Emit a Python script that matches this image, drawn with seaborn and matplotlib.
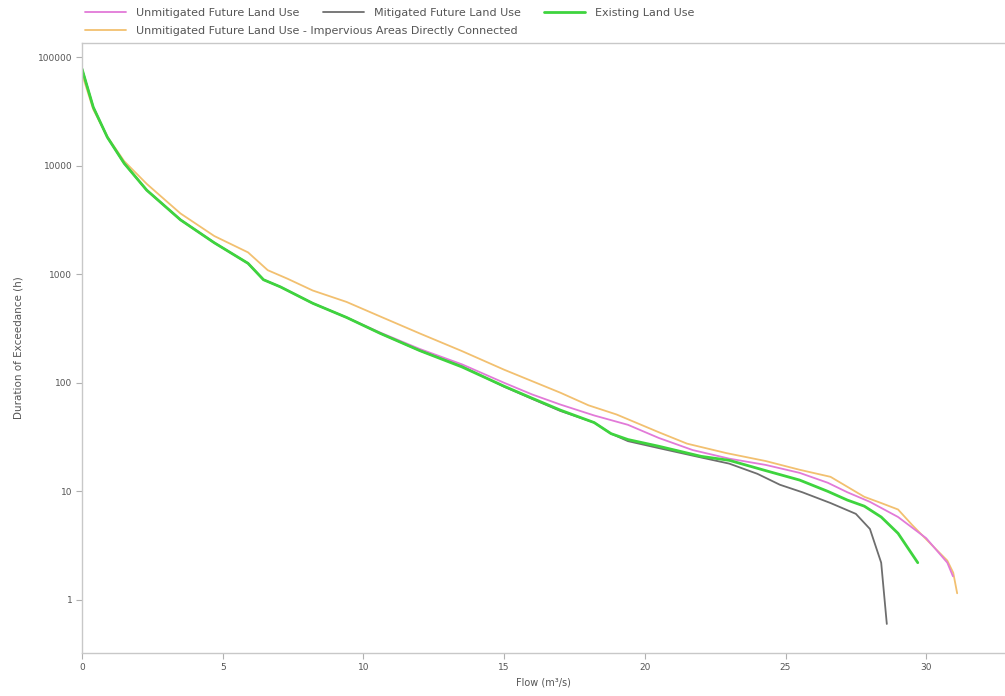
import numpy as np
import pandas as pd
import seaborn as sns
import matplotlib.pyplot as plt
from matplotlib.ticker import FixedLocator, FixedFormatter, NullLocator

# Data (flow in m3/s, duration in hours)

unmit_x = [0, 0.4, 0.9, 1.5, 2.3, 3.5, 4.7, 5.9, 6.45, 7.05, 8.2, 9.4, 10.6, 12.0, 13.5,
           15.0, 16.0, 17.0, 18.2, 19.4, 20.5, 21.7, 23.0, 24.3, 25.5, 26.5, 27.2, 28.0,
           29.0, 30.0, 30.75, 30.95]
unmit_y = [78000, 34600, 18300, 10500, 5950, 3170, 1950, 1260, 890, 765, 540, 400, 290, 205, 148,
           100, 78, 63, 50, 41, 31, 24, 20, 17.5, 14.8, 12, 9.8, 8, 5.8, 3.7, 2.2, 1.65]

mit_x = [0, 0.4, 0.9, 1.5, 2.3, 3.5, 4.7, 5.9, 6.45, 7.05, 8.2, 9.4, 10.6, 12.0, 13.5,
         15.0, 16.0, 17.0, 18.2, 18.8, 19.4, 20.5, 22.0, 23.0, 24.0, 24.8, 25.6, 26.6,
         27.5, 28.0, 28.4, 28.6]
mit_y = [78000, 34600, 18300, 10500, 5950, 3170, 1950, 1260, 890, 765, 540, 400, 285, 198, 142,
         92, 71, 55, 43, 34, 29, 25, 20.5, 18, 14.5, 11.5, 9.8, 7.8, 6.2, 4.5, 2.2, 0.6]

exist_x = [0, 0.4, 0.9, 1.5, 2.3, 3.5, 4.7, 5.9, 6.45, 7.05, 8.2, 9.4, 10.6, 12.0, 13.5,
           15.0, 16.0, 17.0, 18.2, 18.8, 19.4, 20.5, 22.0, 23.0, 24.3, 25.5, 26.5, 27.2,
           27.8, 28.4, 29.0, 29.7]
exist_y = [78000, 34600, 18300, 10500, 5950, 3170, 1950, 1260, 890, 765, 540, 400, 285, 198, 140,
           93, 72, 56, 43, 34, 30, 26, 21, 19.3, 15.5, 12.7, 10, 8.3, 7.3, 5.8, 4.1, 2.2]

imperv_x = [0, 0.4, 0.9, 1.5, 2.3, 3.5, 4.7, 5.9, 6.6, 7.3, 8.2, 9.4, 10.6, 12.0, 13.5,
            15.0, 17.0, 18.0, 19.0, 20.5, 21.5, 22.9, 24.3, 25.5, 26.6, 27.2, 27.8, 28.4,
            29.0, 29.5, 30.2, 30.75, 30.96, 31.1]
imperv_y = [70000, 33000, 18500, 11000, 6800, 3630, 2250, 1590, 1090, 910, 708, 556, 408, 285, 196,
            132, 81, 62, 51, 35, 27.5, 22.5, 19, 15.8, 13.6, 11, 8.9, 7.8,
            6.8, 4.9, 3.2, 2.3, 1.78, 1.15]

y_ticks = [1, 10, 100, 1000, 10000, 100000]
y_labels = ["1", "10", "100", "1000", "10000", "100000"]
x_ticks = [0, 5, 10, 15, 20, 25, 30]

series = [
    # name, x, y, colour, width
    ("Unmitigated Future Land Use - Impervious Areas Directly Connected", imperv_x, imperv_y, "#f2c070", 1.3),
    ("Unmitigated Future Land Use", unmit_x, unmit_y, "#e27ad8", 1.3),
    ("Mitigated Future Land Use", mit_x, mit_y, "#6e6e6e", 1.3),
    ("Existing Land Use", exist_x, exist_y, "#3ed43e", 2.0),
]

sns.set_style("white")
plt.rcParams['font.family'] = ['DejaVu Sans']

fig = plt.figure(figsize=(10.05, 6.96), dpi=100)
ax = fig.add_axes([0.0816, 0.062, 0.9184, 0.876])

handles = {}
for name, xs, ys, col, lw in series:
    df = pd.DataFrame({'flow': xs, 'dur': ys})
    sns.lineplot(data=df, x='flow', y='dur', ax=ax, color=col, linewidth=lw,
                 sort=False, label=name)
    handles[name] = ax.get_lines()[-1]

ax.set_yscale('log')
ax.set_xlim(0, 32.8)
ax.set_ylim(0.325, 134600)
ax.yaxis.set_major_locator(FixedLocator(y_ticks))
ax.yaxis.set_major_formatter(FixedFormatter(y_labels))
ax.yaxis.set_minor_locator(NullLocator())
ax.set_xticks(x_ticks)

for s in ['left', 'bottom', 'top']:
    ax.spines[s].set_color('#c8c8c8')
    ax.spines[s].set_linewidth(1.0)
ax.spines['right'].set_visible(False)
ax.tick_params(axis='both', which='major', direction='out', length=4, width=0.8,
               color='#b0b0b0', labelsize=6.5, labelcolor='#555555', pad=3)
ax.tick_params(left=True, bottom=True)

ax.set_xlabel("Flow (m³/s)", fontsize=7, color='#555555', labelpad=4)
ax.set_ylabel("Duration of Exceedance (h)", fontsize=7.5, color='#555555', labelpad=10)

ax.get_legend().remove()

# two legend rows, laid out as in the reference
row1 = ["Unmitigated Future Land Use", "Mitigated Future Land Use", "Existing Land Use"]
row2 = ["Unmitigated Future Land Use - Impervious Areas Directly Connected"]
leg_kw = dict(loc='upper left', frameon=False, fontsize=8, labelcolor='#555555',
              handlelength=3.7, handletextpad=0.9, borderpad=0, borderaxespad=0)
fig.legend([handles[n] for n in row1], row1, ncol=3, columnspacing=2.1,
           bbox_to_anchor=(0.0846, 0.988), **leg_kw)
fig.legend([handles[n] for n in row2], row2, ncol=1,
           bbox_to_anchor=(0.0846, 0.963), **leg_kw)

fig.savefig("out.png", dpi=100)
